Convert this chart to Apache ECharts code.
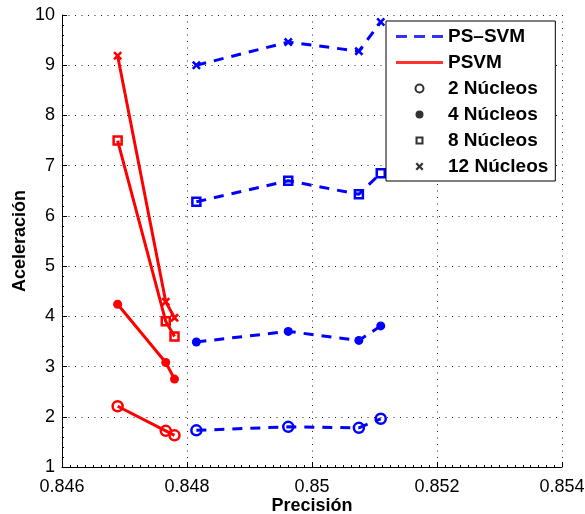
<!DOCTYPE html>
<html>
<head>
<meta charset="utf-8">
<script src="https://cdn.jsdelivr.net/npm/echarts@6/dist/echarts.min.js"></script>
<style>
html,body{margin:0;padding:0;background:#fff;}
#c{width:585px;height:514px;}
</style>
</head>
<body>
<div id="c"></div>
<script>
// ---- data ----
const xTicks = [0.846, 0.848, 0.850, 0.852, 0.854];
const xTickLabels = ['0.846', '0.848', '0.85', '0.852', '0.854'];
const yTicks = [1, 2, 3, 4, 5, 6, 7, 8, 9, 10];

const psSvmPrecision = [0.84815, 0.84962, 0.85075, 0.85110];
const psSvm2 = [1.73, 1.80, 1.78, 1.96];
const psSvm4 = [3.49, 3.70, 3.52, 3.81];
const psSvm8 = [6.28, 6.70, 6.43, 6.85];
const psSvm12 = [9.00, 9.46, 9.28, 9.86];

const psvmPrecision = [0.84689, 0.84766, 0.84780];
const psvm2 = [2.21, 1.72, 1.63];
const psvm4 = [4.24, 3.08, 2.75];
const psvm8 = [7.50, 3.90, 3.60];
const psvm12 = [9.19, 4.29, 3.97];

const legendNames = ['PS\u2013SVM', 'PSVM', '2 N\u00facleos', '4 N\u00facleos', '8 N\u00facleos', '12 N\u00facleos'];

// ---- styles ----
const BLUE = '#0000ff', RED = '#ff0000';
const FONT = '"Liberation Sans", Arial, Helvetica, sans-serif';
const CROSS = 'path://M2,0 L5,3 L8,0 L10,2 L7,5 L10,8 L8,10 L5,7 L2,10 L0,8 L3,5 L0,2 Z';
const HOLLOW_SQ = 'path://M0,0L10,0L10,10L0,10Z M2.6,2.6L2.6,7.4L7.4,7.4L7.4,2.6Z';
const DASH_ICON = 'path://M0,0h11v3h-11z M18,0h11v3h-11z M36,0h11v3h-11z';
const LINE_ICON = 'path://M0,0h47v3h-47z';
const markers = [
  {symbol: 'circle', size: 10, hollow: true},
  {symbol: 'circle', size: 9, hollow: false},
  {symbol: 'rect', size: 8, hollow: true},
  {symbol: CROSS, size: 9, hollow: false}
];

function pairs(xs, ys) { return xs.map((x, i) => [x, ys[i]]); }

function dataSeries(xs, ys, color, dashed, m) {
  return {
    type: 'line',
    data: pairs(xs, ys),
    symbol: m.symbol,
    symbolSize: m.size,
    showAllSymbol: true,
    lineStyle: {color: color, width: 3, type: dashed ? [10, 8] : 'solid'},
    itemStyle: {
      color: m.hollow ? 'rgba(0,0,0,0)' : color,
      borderColor: color,
      borderWidth: m.hollow ? 2.5 : 0
    },
    silent: true,
    z: 3
  };
}

const series = [];
[psSvm2, psSvm4, psSvm8, psSvm12].forEach((ys, i) =>
  series.push(dataSeries(psSvmPrecision, ys, BLUE, true, markers[i])));
[psvm2, psvm4, psvm8, psvm12].forEach((ys, i) =>
  series.push(dataSeries(psvmPrecision, ys, RED, false, markers[i])));

// legend-only series (no data)
const legendColors = [BLUE, RED, '#000', '#000', '#000', '#000'];
const legendIcons = [DASH_ICON, LINE_ICON, 'emptyCircle', 'circle', HOLLOW_SQ, CROSS];
legendNames.forEach((n, i) => {
  series.push({name: n, type: 'scatter', data: [], symbol: legendIcons[i],
    itemStyle: {color: legendColors[i], borderColor: legendColors[i], borderWidth: i === 2 ? 2.5 : 0}});
});

const chart = echarts.init(document.getElementById('c'), null, {renderer: 'canvas'});
chart.setOption({
  animation: false,
  backgroundColor: '#fff',
  textStyle: {fontFamily: FONT},
  grid: {left: 62, right: 23, top: 15, bottom: 47, containLabel: false, outerBoundsMode: 'none'},
  xAxis: {
    type: 'value',
    min: xTicks[0], max: xTicks[xTicks.length - 1], interval: 0.002,
    name: 'Precisi\u00f3n', nameLocation: 'middle', nameGap: 30, nameMoveOverlap: false,
    nameTextStyle: {fontFamily: FONT, fontSize: 18, fontWeight: 'bold', color: '#000'},
    axisLine: {show: true, onZero: false, lineStyle: {color: '#000', width: 1}},
    axisTick: {show: true, inside: true, length: 5, lineStyle: {color: '#000'}},
    minorTick: {show: true, splitNumber: 16, length: 2, lineStyle: {color: '#000'}},
    axisLabel: {
      fontFamily: FONT, fontSize: 18, color: '#000', margin: 11,
      formatter: function (v) {
        const idx = xTicks.findIndex(t => Math.abs(t - v) < 1e-9);
        return idx >= 0 ? xTickLabels[idx] : '';
      }
    },
    splitLine: {show: true, lineStyle: {color: '#222', width: 1, type: [1, 5.5]}}
  },
  yAxis: {
    type: 'value',
    min: yTicks[0], max: yTicks[yTicks.length - 1], interval: 1,
    name: 'Aceleraci\u00f3n', nameLocation: 'middle', nameGap: 33, nameMoveOverlap: false,
    nameTextStyle: {fontFamily: FONT, fontSize: 18, fontWeight: 'bold', color: '#000'},
    axisLine: {show: true, onZero: false, lineStyle: {color: '#000', width: 1}},
    axisTick: {show: true, inside: true, length: 5, lineStyle: {color: '#000'}},
    minorTick: {show: true, splitNumber: 5, length: 2, lineStyle: {color: '#000'}},
    axisLabel: {fontFamily: FONT, fontSize: 18, color: '#000', margin: 7,
      formatter: v => String(yTicks.find(t => Math.abs(t - v) < 1e-9) ?? '')},
    splitLine: {show: true, lineStyle: {color: '#222', width: 1, type: [1, 5.5]}}
  },
  legend: {
    data: legendNames.map((n, i) => ({name: n, icon: legendIcons[i]})),
    orient: 'vertical',
    left: 386, top: 21,
    padding: [6, 7, 5, 10],
    itemWidth: 47, itemHeight: 8, itemGap: 7,
    backgroundColor: '#fff',
    borderColor: '#000', borderWidth: 1, borderRadius: 0,
    selectedMode: false,
    textStyle: {fontFamily: FONT, fontSize: 19, fontWeight: 'bold', color: '#000', lineHeight: 18}
  },
  series: series
});
</script>
</body>
</html>
